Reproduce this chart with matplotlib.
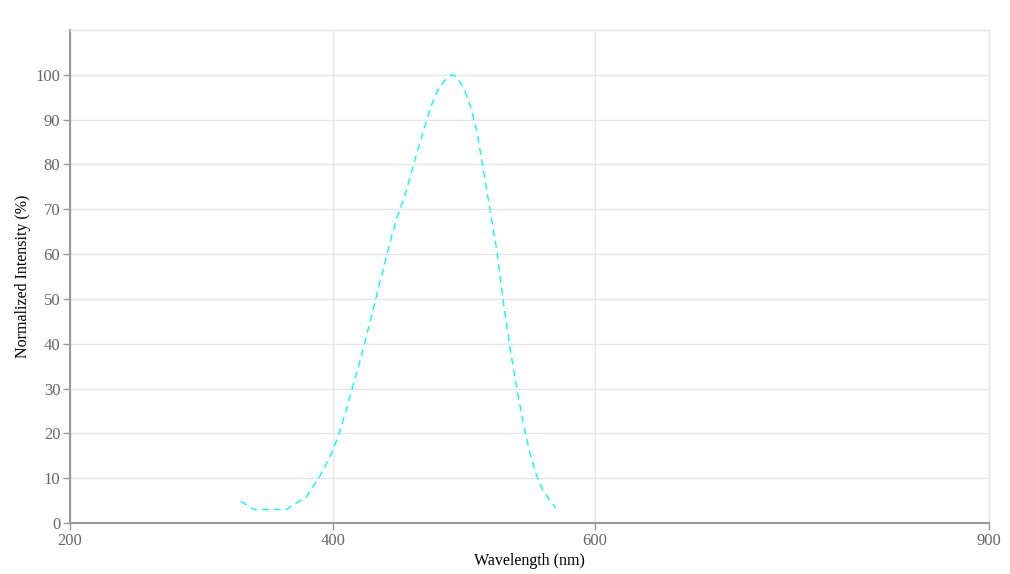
import matplotlib
matplotlib.use("Agg")
from matplotlib import pyplot as plt

# 读数：波长 (nm) 与归一化强度 (%)
wavelength = [330, 335, 340, 345, 350, 355, 360, 365, 370, 375, 380, 385, 390, 395,
              400, 405, 410, 415, 420, 425, 430, 435, 440, 445, 450, 455, 460, 465,
              470, 475, 480, 485, 490, 492, 495, 500, 505, 510, 515, 520, 525, 530,
              535, 540, 545, 550, 555, 560, 565, 570]
intensity = [4.8, 4.0, 3.0, 3.0, 3.0, 3.0, 3.0, 3.0, 4.1, 4.9, 5.8, 8.1, 10.3, 13.1,
             16.1, 19.9, 24.8, 30.0, 35.2, 40.8, 46.5, 52.5, 58.3, 64.0, 69.0, 73.0, 78.2, 83.3,
             88.3, 93.0, 96.5, 98.6, 99.8, 100.0, 99.3, 97.0, 93.0, 87.3, 78.5, 69.8, 61.0, 49.5,
             39.3, 30.6, 22.6, 16.0, 10.9, 7.4, 5.3, 3.4]
x_ticks = [200, 400, 600, 900]
y_ticks = list(range(0, 101, 10))

plt.rcParams["font.family"] = ["Liberation Serif", "DejaVu Serif"]

fig = plt.figure(figsize=(10.1, 5.74), dpi=100)
ax = fig.add_axes([70 / 1010, 51 / 574, 919 / 1010, 493 / 574])

ax.plot(wavelength, intensity, color="#00ffff", linewidth=1, linestyle=(0, (5, 3.5)))

ax.set_xlim(200, 900)
ax.set_ylim(0, 110)
ax.set_xticks(x_ticks)
ax.set_yticks(y_ticks)
ax.grid(True, color="#e6e6e6", linewidth=1)
ax.set_axisbelow(True)

for side in ["left", "bottom"]:
    ax.spines[side].set_color("#999999")
    ax.spines[side].set_linewidth(1.5)
for side in ["top", "right"]:
    ax.spines[side].set_color("#e6e6e6")
    ax.spines[side].set_linewidth(1)

ax.tick_params(axis="both", colors="#999999", labelcolor="#666666", labelsize=12,
               length=5, width=1, pad=2)
ax.set_xlabel("Wavelength (nm)", fontsize=11.5, color="black", labelpad=3)
ax.set_ylabel("Normalized Intensity (%)", fontsize=11.5, color="black", labelpad=3)

fig.savefig("out.png", dpi=100)
